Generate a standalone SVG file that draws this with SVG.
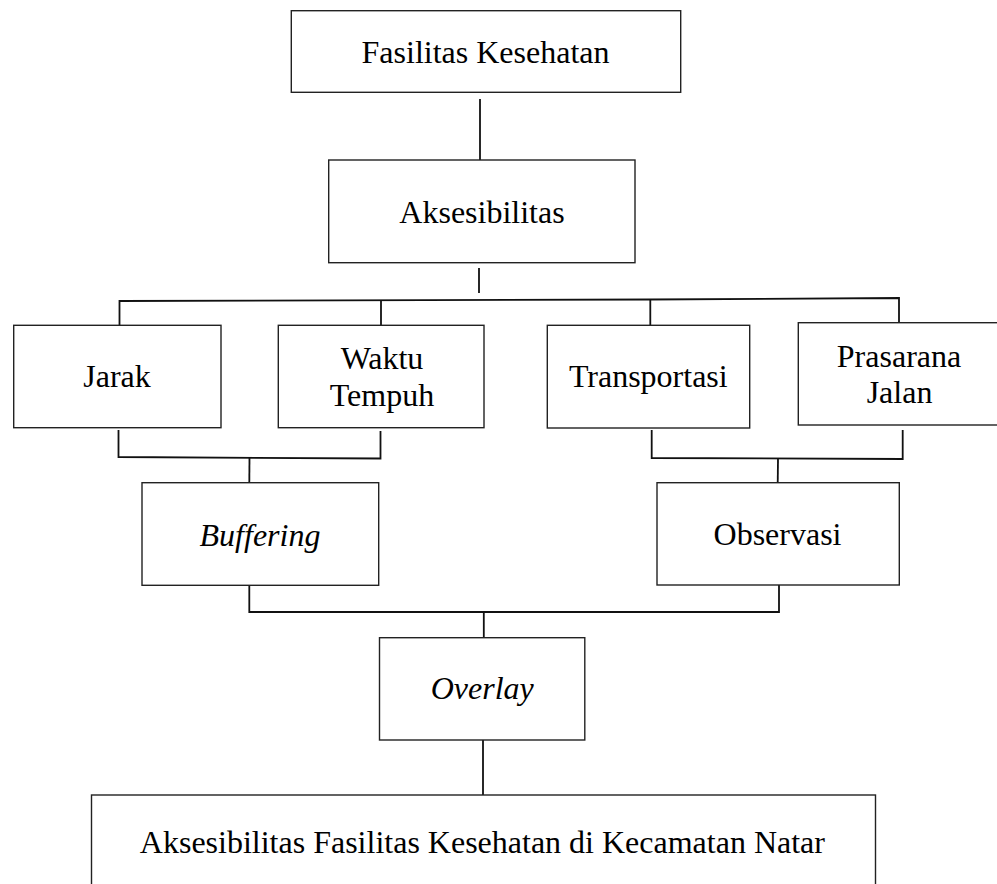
<svg xmlns="http://www.w3.org/2000/svg" width="997" height="884" viewBox="0 0 997 884">
<style>
.box{fill:#fff;stroke:#222;stroke-width:1.4}
.conn{fill:none;stroke:#111;stroke-width:1.8}
text{font-family:"Liberation Serif","Times New Roman",serif;font-size:32px;fill:#000;text-anchor:middle}
.it{font-style:italic}
</style>
<rect width="997" height="884" fill="#fff"/>
<g id="connectors">
<line class="conn" x1="480" y1="99" x2="480" y2="161"/>
<line class="conn" x1="479" y1="268" x2="479" y2="293"/>
<polyline class="conn" points="119.5,325 119.5,301 650,299.5 899,298 899,323"/>
<line class="conn" x1="381" y1="300.5" x2="381" y2="325"/>
<line class="conn" x1="650.3" y1="299.5" x2="650.3" y2="325"/>
<polyline class="conn" points="118.5,430 118.5,457 380.5,458.5 380.5,431"/>
<line class="conn" x1="249.5" y1="457.5" x2="249.3" y2="483"/>
<polyline class="conn" points="651.7,430 651.7,458 902.7,459 902.7,430"/>
<line class="conn" x1="778" y1="458.5" x2="777.7" y2="486"/>
<polyline class="conn" points="249.3,585 249.3,612 779,612 779,585"/>
<line class="conn" x1="483.8" y1="612" x2="483.8" y2="638"/>
<line class="conn" x1="483" y1="735.5" x2="483" y2="795"/>
</g>
<g id="fasilitas-kesehatan">
<rect class="box" x="291.3" y="10.7" width="389.4" height="81.6"/>
<text x="485.5" y="63.3">Fasilitas Kesehatan</text>
</g>
<g id="aksesibilitas">
<rect class="box" x="328.7" y="160" width="306.3" height="102.7"/>
<text x="482" y="222.7">Aksesibilitas</text>
</g>
<g id="jarak">
<rect class="box" x="13.7" y="325.3" width="207.3" height="102.4"/>
<text x="117" y="387.3">Jarak</text>
</g>
<g id="waktu-tempuh">
<rect class="box" x="278.3" y="325.3" width="205.7" height="102.4"/>
<text x="382" y="369.3">Waktu</text>
<text x="382" y="406">Tempuh</text>
</g>
<g id="transportasi">
<rect class="box" x="547.3" y="325.3" width="202.4" height="102.7"/>
<text x="648.3" y="387.3">Transportasi</text>
</g>
<g id="prasarana-jalan">
<rect class="box" x="798.3" y="322.7" width="210" height="102.3"/>
<text x="899" y="366.7">Prasarana</text>
<text x="899.5" y="403.3">Jalan</text>
</g>
<g id="buffering">
<rect class="box" x="142" y="482.7" width="236.7" height="102.6"/>
<text class="it" x="260" y="545.7">Buffering</text>
</g>
<g id="observasi">
<rect class="box" x="657" y="482.7" width="242.3" height="102.3"/>
<text x="777.5" y="545">Observasi</text>
</g>
<g id="overlay">
<rect class="box" x="379.5" y="637.7" width="205.3" height="102.3"/>
<text class="it" x="482.2" y="699.3">Overlay</text>
</g>
<g id="hasil">
<rect class="box" x="91.5" y="795" width="784" height="100"/>
<text x="482.4" y="853.3">Aksesibilitas Fasilitas Kesehatan di Kecamatan Natar</text>
</g>
</svg>
